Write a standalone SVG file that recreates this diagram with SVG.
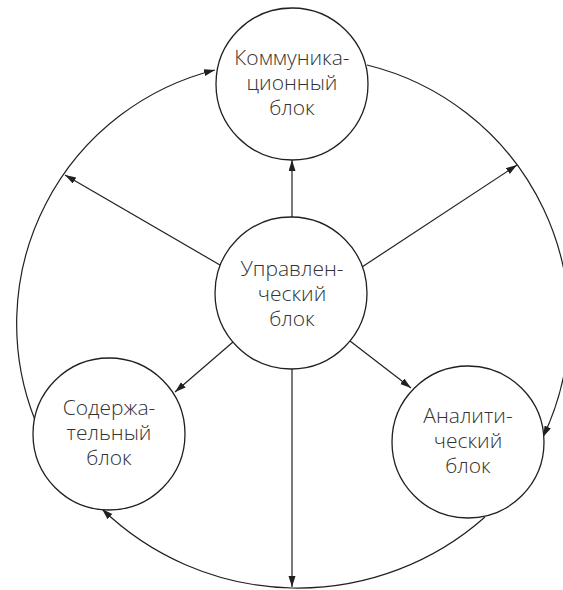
<svg xmlns="http://www.w3.org/2000/svg" width="563" height="590" viewBox="0 0 563 590">
<style>
.node circle{fill:#fff;stroke:#231f20;stroke-width:1.3}
.node text{font-family:"Open Sans","Noto Sans","DejaVu Sans",sans-serif;font-weight:300;font-size:21px;fill:#333;text-anchor:middle}
.conn path,.conn line{fill:none;stroke:#231f20;stroke-width:1.2;marker-end:url(#ah)}
</style>
<defs>
<marker id="ah" markerUnits="userSpaceOnUse" markerWidth="12" markerHeight="8" refX="11" refY="3.5" orient="auto">
<path d="M0,0 L11,3.5 L0,7 z" fill="#231f20"/>
</marker>
</defs>
<rect width="563" height="590" fill="#fff"/>
<g id="connectors" class="conn">
<line x1="292" y1="217" x2="292" y2="160"/>
<line x1="220" y1="265" x2="65" y2="175"/>
<line x1="362" y1="267" x2="517" y2="165"/>
<line x1="233" y1="342" x2="175" y2="392"/>
<line x1="350" y1="341" x2="411" y2="388"/>
<line x1="292" y1="369" x2="292" y2="587"/>
<path d="M35,420 A261.5,261.5 0 0 1 215,70"/>
<path d="M367,65 A265,265 0 0 1 543,437"/>
<path d="M485,517 A282,282 0 0 1 102,509"/>
</g>
<g id="komm" class="node">
<circle cx="292" cy="84" r="76"/>
<text x="292" y="65">Коммуника-<tspan x="292" dy="25">ционный</tspan><tspan x="292" dy="25">блок</tspan></text>
</g>
<g id="upr" class="node">
<circle cx="291" cy="293" r="76"/>
<text x="292" y="276">Управлен-<tspan x="292" dy="25">ческий</tspan><tspan x="292" dy="25">блок</tspan></text>
</g>
<g id="sod" class="node">
<circle cx="109" cy="434" r="76"/>
<text x="109" y="415">Содержа-<tspan x="109" dy="25">тельный</tspan><tspan x="109" dy="25">блок</tspan></text>
</g>
<g id="anal" class="node">
<circle cx="468" cy="442" r="76"/>
<text x="468" y="423">Аналити-<tspan x="468" dy="25">ческий</tspan><tspan x="468" dy="25">блок</tspan></text>
</g>
</svg>
